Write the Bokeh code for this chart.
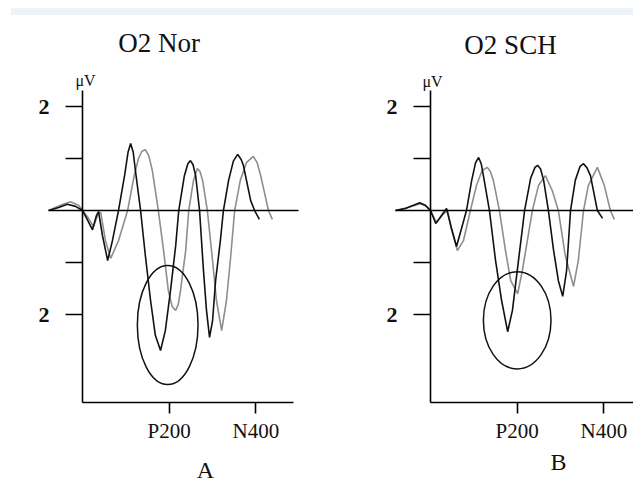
from bokeh.plotting import figure
from bokeh.models import Label, FixedTicker, Range1d, Div, LinearAxis
from bokeh.layouts import row, column
from bokeh.embed import file_html
from bokeh.resources import INLINE

# ---------------- data (time in ms, amplitude in microvolts) ----------------
panel_titles = ["O2 Nor", "O2 SCH"]
panel_letters = ["A", "B"]

# Panel A (O2 Nor)
a_black_t = [-78, -55, -35, -16, 0, 12, 23, 32, 37, 46, 58, 69, 83, 97, 105, 111, 117, 122,
             134, 145, 157, 168, 180, 191, 203, 215, 222, 235, 243, 249, 255, 261, 270, 279,
             286, 293, 300, 307, 318, 325, 337, 348, 358, 366, 371, 388, 397, 408]
a_black_v = [0, 0.06, 0.12, 0.08, 0, -0.19, -0.37, -0.10, -0.02, -0.48, -0.96, -0.58, 0, 0.67,
             1.12, 1.29, 1.12, 0.77, 0, -0.87, -1.73, -2.40, -2.69, -2.31, -1.54, -0.67, 0,
             0.67, 0.90, 0.96, 0.88, 0.67, 0, -1.15, -1.92, -2.44, -2.12, -1.35, -0.58, 0,
             0.58, 0.95, 1.08, 0.98, 0.87, 0.19, 0, -0.17]
a_grey_t = [-78, -51, -28, -9, 0, 14, 25, 37, 42, 53, 65, 83, 104, 118, 129, 137, 145, 153, 161,
            175, 187, 198, 207, 215, 221, 226, 238, 245, 256, 265, 271, 277, 288, 300, 309, 321,
            332, 341, 351, 364, 378, 394, 403, 411, 429, 438]
a_grey_v = [0, 0.10, 0.17, 0.10, 0, -0.15, -0.31, -0.04, -0.04, -0.58, -0.92, -0.58, 0, 0.62,
            1.00, 1.14, 1.17, 1.05, 0.77, 0, -0.77, -1.54, -1.85, -1.92, -1.80, -1.54, -0.77, 0,
            0.58, 0.81, 0.75, 0.58, 0, -0.96, -1.73, -2.31, -1.73, -0.96, 0, 0.58, 0.92, 1.04,
            0.92, 0.67, 0, -0.17]

# Panel B (O2 SCH)
b_black_t = [-81, -58, -25, -12, 0, 12, 25, 37, 48, 60, 72, 83, 95, 104, 111, 117, 122, 136,
             150, 164, 178, 189, 203, 217, 231, 241, 247, 254, 261, 272, 284, 295, 305, 314,
             323, 334, 345, 353, 361, 369, 385, 397]
b_black_v = [0, 0.04, 0.15, 0.10, 0, -0.25, -0.10, 0.04, -0.33, -0.69, -0.33, 0, 0.58, 0.92,
             1.02, 0.90, 0.67, 0, -0.96, -1.73, -2.33, -1.92, -0.96, 0, 0.62, 0.83, 0.87,
             0.80, 0.58, 0, -0.77, -1.35, -1.65, -1.15, 0, 0.58, 0.85, 0.90, 0.82, 0.67, 0,
             -0.15]
b_grey_t = [-81, -53, -23, -9, 0, 14, 28, 39, 48, 62, 76, 92, 106, 119, 131, 138, 145, 159,
            173, 185, 201, 212, 235, 249, 265, 281, 295, 311, 330, 341, 353, 364, 385, 401,
            415, 424]
b_grey_v = [0, 0.06, 0.13, 0.08, 0, -0.23, -0.08, 0, -0.35, -0.77, -0.58, 0, 0.48, 0.77,
            0.83, 0.75, 0.58, 0, -0.77, -1.35, -1.60, -1.15, 0, 0.48, 0.67, 0.38, 0, -0.87,
            -1.46, -0.96, 0, 0.48, 0.83, 0.48, 0, -0.17]

# Circled P200 region (centre time, centre amplitude, width in ms, height in uV)
a_circle = [196.5, -2.20, 140, 2.29]
b_circle = [200, -2.11, 156, 1.87]

y_ticks = [-2, -1, 1, 2]
y_tick_labels = {-2: "2", -1: "", 1: "", 2: "2"}
x_ticks = [200, 400]
x_tick_labels = {200: "P200", 400: "N400"}

SERIF = "Liberation Serif"
INK = "#111111"
V_LOW, V_HIGH = -3.69, 2.31      # extent of the amplitude axis


def make_panel(title, letter, bt, bv, gt, gv, circle, width, x_start, x_end,
               base_start, base_end, x_axis_end, title_xy, uv_xy, letter_xy):
    p = figure(width=width, height=466, output_backend="svg", toolbar_location=None,
               x_range=Range1d(x_start, x_end), y_range=Range1d(-5.21, 3.75),
               min_border=0)
    p.outline_line_color = None
    p.xgrid.visible = False
    p.ygrid.visible = False
    p.background_fill_color = "white"
    p.border_fill_color = "white"

    # amplitude axis at t = 0
    p.yaxis.fixed_location = 0
    p.yaxis.bounds = (V_LOW, V_HIGH)
    p.yaxis.ticker = FixedTicker(ticks=y_ticks)
    p.yaxis.major_label_overrides = y_tick_labels
    p.yaxis.minor_tick_line_color = None
    p.yaxis.major_tick_in = 0
    p.yaxis.major_tick_out = 17
    p.yaxis.major_label_standoff = 16
    p.yaxis.axis_line_width = 1.6
    p.yaxis.major_tick_line_width = 1.6
    p.yaxis.axis_line_color = "black"
    p.yaxis.major_label_text_font = SERIF
    p.yaxis.major_label_text_font_size = "22px"
    p.yaxis.major_label_text_font_style = "bold"
    p.yaxis.major_label_text_color = INK

    # time axis at the bottom of the amplitude axis
    p.xaxis.fixed_location = V_LOW
    p.xaxis.bounds = (0, x_axis_end)
    p.xaxis.ticker = FixedTicker(ticks=x_ticks)
    p.xaxis.major_label_overrides = x_tick_labels
    p.xaxis.minor_tick_line_color = None
    p.xaxis.major_tick_in = 0
    p.xaxis.major_tick_out = 11
    p.xaxis.major_label_standoff = 6
    p.xaxis.axis_line_width = 1.6
    p.xaxis.major_tick_line_width = 1.6
    p.xaxis.axis_line_color = "black"
    p.xaxis.major_label_text_font = SERIF
    p.xaxis.major_label_text_font_size = "21px"
    p.xaxis.major_label_text_color = INK

    # zero baseline drawn as a tick-less axis at 0 uV
    base = LinearAxis(fixed_location=0, bounds=(base_start, base_end),
                      ticker=FixedTicker(ticks=[]), axis_line_width=1.6,
                      axis_line_color="black", major_tick_line_color=None,
                      minor_tick_line_color=None, major_label_text_font_size="0px")
    p.add_layout(base, "below")

    p.line(gt, gv, line_color="#8e8e8e", line_width=1.6)
    p.line(bt, bv, line_color=INK, line_width=1.6)
    p.ellipse(x=[circle[0]], y=[circle[1]], width=[circle[2]], height=[circle[3]],
              fill_color=None, line_color=INK, line_width=1.5)

    # texts (screen offsets within the figure)
    p.add_layout(Label(x=title_xy[0], y=title_xy[1], x_units="screen", y_units="screen",
                       text=title, text_font=SERIF, text_font_size="27px",
                       text_align="center", text_baseline="middle", text_color=INK))
    p.add_layout(Label(x=uv_xy[0], y=uv_xy[1], x_units="screen", y_units="screen",
                       text="\u03bcV", text_font=SERIF, text_font_size="16px",
                       text_align="center", text_baseline="middle", text_color=INK))
    p.add_layout(Label(x=letter_xy[0], y=letter_xy[1], x_units="screen", y_units="screen",
                       text=letter, text_font=SERIF, text_font_size="24px",
                       text_align="center", text_baseline="alphabetic", text_color=INK))
    return p


pa = make_panel(panel_titles[0], panel_letters[0], a_black_t, a_black_v, a_grey_t, a_grey_v,
                a_circle, 348, -189.2, 613.6, -78.4, 498.3, 487,
                (158.5, 439), (85, 401), (205, 12))
pb = make_panel(panel_titles[1], panel_letters[1], b_black_t, b_black_v, b_grey_t, b_grey_v,
                b_circle, 285, -189.2, 468.3, -80.7, 470, 470,
                (162, 437), (84, 400), (210, 20))

band = Div(text="", width=622, height=7, margin=(8, 0, 0, 11),
           styles={"background-color": "#eef2f9"})

layout = column(band, row(pa, pb, spacing=0), spacing=0)

open("out.html", "w").write(file_html(layout, INLINE))
